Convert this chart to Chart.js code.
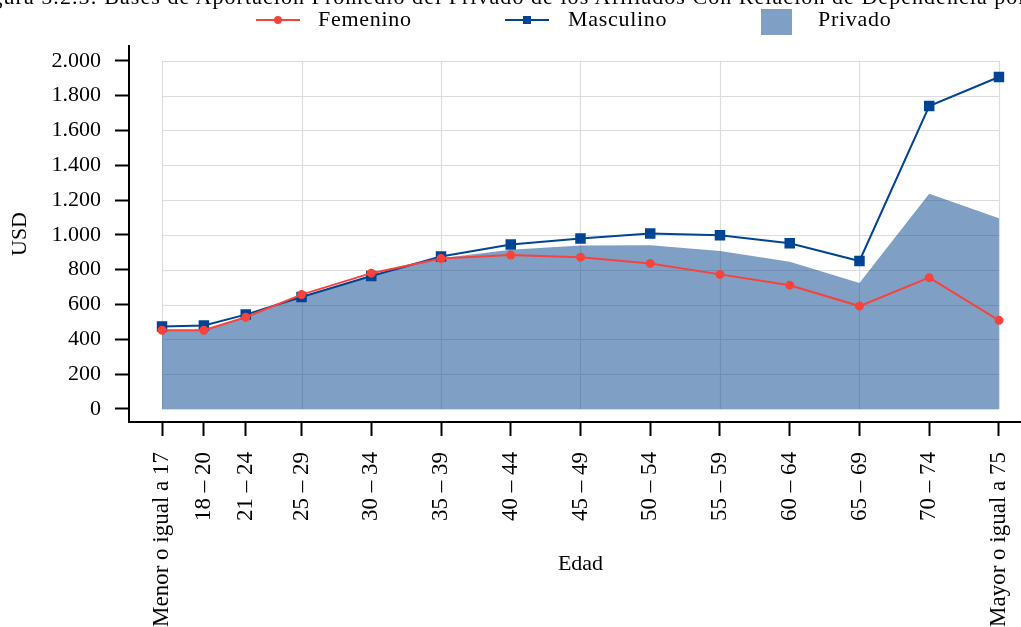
<!DOCTYPE html>
<html lang="es">
<head>
<meta charset="UTF-8">
<title>Bases de Aportación Promedio</title>
<script src="https://cdn.jsdelivr.net/npm/chart.js"></script>
<style>
  html, body { margin: 0; padding: 0; width: 1021px; height: 627px; overflow: hidden; background: #fff; }
  #wrap { position: relative; width: 1045px; height: 627px; font-family: 'Liberation Serif', 'Times New Roman', serif; color: #000; }
  #myChart { position: absolute; left: 0; top: 0; }
  .titulo { position: absolute; left: -29px; top: -14px; font-size: 22px; letter-spacing: 1.05px; white-space: nowrap; line-height: 1; }
  .leyenda { position: absolute; top: 7px; font-size: 22px; letter-spacing: 0.7px; line-height: 24px; white-space: nowrap; }
  .linea { position: absolute; height: 2px; top: 19px; }
  .marca { position: absolute; }
</style>
</head>
<body>
<div id="wrap">
  <canvas id="myChart" width="1045" height="627"></canvas>
  <div class="titulo">Figura 5.2.5: Bases de Aportación Promedio del Privado de los Afiliados Con Relación de Dependencia por Edad y Sexo</div>
  <!--leyenda-->
  <div class="linea" style="left:256px;width:44px;background:#f8433c"></div>
  <div class="marca" style="left:274px;top:16px;width:8px;height:8px;border-radius:50%;background:#f8433c"></div>
  <div class="leyenda" style="left:318px">Femenino</div>
  <div class="linea" style="left:505px;width:44px;background:#004494"></div>
  <div class="marca" style="left:523px;top:16px;width:8px;height:8px;background:#004494"></div>
  <div class="leyenda" style="left:568px">Masculino</div>
  <div class="marca" style="left:761px;top:9px;width:31px;height:26px;background:rgba(0,64,140,0.5)"></div>
  <div class="leyenda" style="left:818px">Privado</div>
</div>

<script>
  // datos
  const edadLabels = ['Menor o igual a 17', '18 – 20', '21 – 24', '25 – 29', '30 – 34', '35 – 39', '40 – 44',
    '45 – 49', '50 – 54', '55 – 59', '60 – 64', '65 – 69', '70 – 74', 'Mayor o igual a 75'];
  const edadPos = [17, 20, 23, 27, 32, 37, 42, 47, 52, 57, 62, 67, 72, 77];
  const femenino = [452, 452, 527, 657, 780, 864, 884, 872, 836, 773, 711, 591, 754, 509];
  const masculino = [474, 480, 542, 643, 764, 876, 945, 979, 1008, 998, 952, 850, 1740, 1907];
  const privado = [448, 452, 528, 645, 768, 866, 914, 939, 941, 907, 846, 724, 1236, 1095];
  const yTicks = [0, 200, 400, 600, 800, 1000, 1200, 1400, 1600, 1800, 2000];
  const gridEdad = [17, 27, 37, 47, 57, 67, 77];

  const fuente = "'Liberation Serif', 'Times New Roman', serif";

  function puntos(serie) {
    return serie.map((v, i) => ({ x: edadPos[i], y: v }));
  }

  function miles(v) {
    return String(v).replace(/\B(?=(\d{3})+(?!\d))/g, '.');
  }

  //rejilla solo dentro del panel
  const rejilla = {
    id: 'rejilla',
    beforeDatasetsDraw(chart) {
      const { ctx, scales: { x, y } } = chart;
      const x0 = x.getPixelForValue(gridEdad[0]);
      const x1 = x.getPixelForValue(gridEdad[gridEdad.length - 1]);
      const y0 = y.getPixelForValue(yTicks[0]);
      const y1 = y.getPixelForValue(yTicks[yTicks.length - 1]);
      ctx.save();
      ctx.strokeStyle = '#dcdcdc';
      ctx.lineWidth = 1.2;
      ctx.beginPath();
      yTicks.forEach(v => {
        const py = Math.round(y.getPixelForValue(v)) + 0.5;
        ctx.moveTo(x0, py);
        ctx.lineTo(x1, py);
      });
      gridEdad.forEach(v => {
        const px = Math.round(x.getPixelForValue(v)) + 0.5;
        ctx.moveTo(px, y0);
        ctx.lineTo(px, y1);
      });
      ctx.stroke();
      ctx.restore();
    }
  };

  const ctx = document.getElementById('myChart').getContext('2d');
  const chart = new Chart(ctx, {
    type: 'line',
    data: {
      datasets: [{
        label: 'Femenino',
        data: puntos(femenino),
        borderColor: '#f8433c',
        backgroundColor: '#f8433c',
        borderWidth: 2,
        pointRadius: 3.5,
        pointStyle: 'circle',
        fill: false,
        tension: 0
      }, {
        label: 'Masculino',
        data: puntos(masculino),
        borderColor: '#004494',
        backgroundColor: '#004494',
        borderWidth: 2,
        pointRadius: 6,
        pointStyle: 'rect',
        fill: false,
        tension: 0
      }, {
        label: 'Privado',
        data: puntos(privado),
        borderWidth: 0,
        borderColor: 'rgba(0,0,0,0)',
        backgroundColor: 'rgba(0,64,140,0.5)',
        pointRadius: 0,
        fill: 'origin',
        tension: 0
      }]
    },
    options: {
      responsive: false,
      animation: false,
      layout: { padding: { top: 46, right: 13, left: 0, bottom: 0 } },
      plugins: {
        legend: { display: false },
        tooltip: { enabled: false }
      },
      scales: {
        x: {
          type: 'linear',
          min: 14.63,
          max: 79.37,
          afterBuildTicks: s => { s.ticks = edadPos.map(v => ({ value: v })); },
          afterFit: s => { s.height = 205; },
          ticks: {
            autoSkip: false,
            minRotation: 90,
            maxRotation: 90,
            padding: 16,
            color: '#000',
            font: { family: fuente, size: 23 },
            callback: (v, i) => edadLabels[i]
          },
          grid: { drawOnChartArea: false, drawTicks: true, tickLength: 14, tickColor: '#000', tickWidth: 2 },
          border: { display: true, color: '#000', width: 2 },
          title: {
            display: true,
            text: 'Edad',
            color: '#000',
            font: { family: fuente, size: 22 },
            padding: { top: 0, bottom: 50 }
          }
        },
        y: {
          min: -75,
          max: 2085,
          afterBuildTicks: s => { s.ticks = yTicks.map(v => ({ value: v })); },
          afterFit: s => { s.width = 129; },
          ticks: {
            padding: 14,
            color: '#000',
            font: { family: fuente, size: 22 },
            callback: v => miles(v)
          },
          grid: { drawOnChartArea: false, drawTicks: true, tickLength: 14, tickColor: '#000', tickWidth: 2 },
          border: { display: true, color: '#000', width: 2 },
          title: {
            display: true,
            text: 'USD',
            color: '#000',
            font: { family: fuente, size: 22 },
            padding: { top: 7, bottom: 0 }
          }
        }
      }
    },
    plugins: [rejilla]
  });
</script>
</body>
</html>
